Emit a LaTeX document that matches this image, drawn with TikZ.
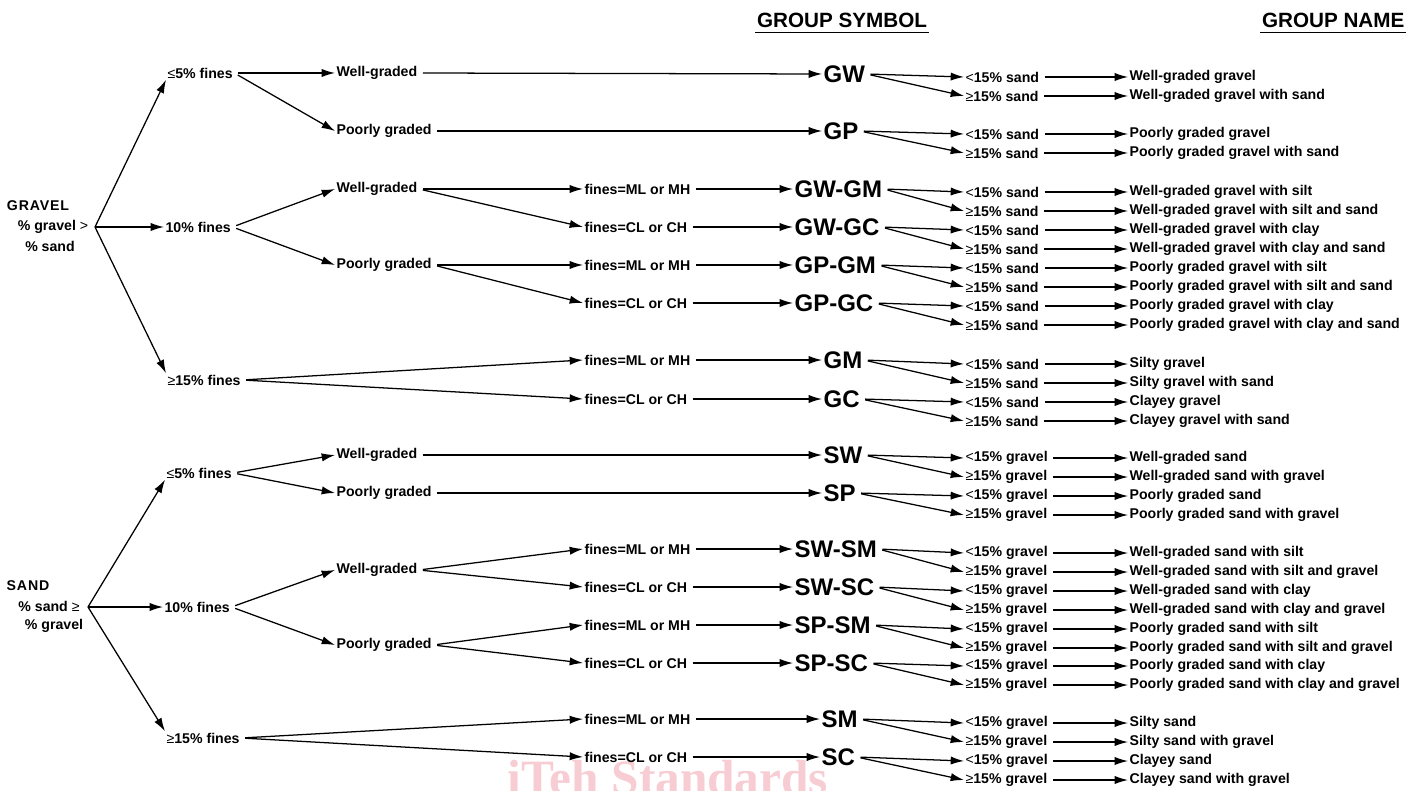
\documentclass[tikz,border=0pt]{standalone}
\usepackage{fontspec}
\setmainfont{Liberation Sans}
\newfontfamily\hdfont{Liberation Sans}[LetterSpace=6]
\newfontfamily\wmfont{Liberation Serif}
\usetikzlibrary{arrows.meta}
\definecolor{wm}{RGB}{247,204,211}
\newcommand\lee{{\mdseries ≤}}
\newcommand\gee{{\mdseries ≥}}
\newcommand\lst{{\mdseries <}}
% right-hand part: #1 symbol node, #2 y of first row, #3 word, #4 #5 group names
\newcommand\critpair[5]{%
  \node[t] (#1a) at (964,#2) {\lst15\% #3};
  \node[t] (#1b) at (964,{#2+19}) {\gee15\% #3};
  \node[t] (#1na) at (1128,#2) {#4};
  \node[t] (#1nb) at (1128,{#2+19}) {#5};
  \draw[ar] (#1.east) -- (#1a.west);
  \draw[ar] (#1.east) -- (#1b.west);
  \draw[ar] (#1a.east) -- (#1na.west);
  \draw[ar] (#1b.east) -- (#1nb.west);
}
\begin{document}
\begin{tikzpicture}[x=0.75pt,y=-0.75pt,
  t/.style={font=\bfseries\fontsize{10.6}{12}\selectfont, inner sep=1pt, anchor=west},
  lbl/.style={font=\bfseries\fontsize{10.6}{12}\selectfont, inner sep=1pt},
  hd/.style={font=\bfseries\fontsize{15.5}{18}\selectfont, inner sep=1pt},
  sym/.style={font=\bfseries\fontsize{18}{20}\selectfont, inner sep=1pt, anchor=west},
  ar/.style={-{Latex[length=10pt,width=6.2pt]}, line width=0.95pt, shorten <=3pt},
  ul/.style={line width=1.1pt}]
\useasboundingbox (0,0) rectangle (1419,791);
\fill[white] (0,0) rectangle (1419,791);
% watermark
\begin{scope}
\clip (0,0) rectangle (1419,791);
\node[font=\wmfont\bfseries\fontsize{37}{40}\selectfont, text=wm, anchor=base, inner sep=0pt] (wmk) at (668,794) {iTeh Standards};
\end{scope}

% headers
\node[hd] (hsym) at (842,20) {GROUP SYMBOL};
\node[hd, anchor=east] (hname) at (1406,20) {GROUP NAME};
\draw[ul] ([yshift=-2.5pt]hsym.south west) -- ([yshift=-2.5pt]hsym.south east);
\draw[ul] ([yshift=-2.5pt]hname.south west) -- ([yshift=-2.5pt]hname.south east);

% ================= GRAVEL =================
\node[lbl, font=\hdfont\bfseries\fontsize{10.6}{12}\selectfont] (gravel) at (38,206) {GRAVEL};
\node[lbl] (gravel2) at (53,227) {\% gravel {\mdseries >}};
\node[lbl] (gravel3) at (50,246) {\% sand};
\coordinate (groot) at (95,227);

\node[t] (g5) at (166,73) {\lee5\% fines};
\node[t] (g10) at (164,227) {10\% fines};
\node[t] (g15) at (166,380) {\gee15\% fines};
\draw[ar, shorten <=0pt] (groot) -- (g5.south west);
\draw[ar, shorten <=0pt] (groot) -- (g10.west);
\draw[ar, shorten <=0pt] (groot) -- (g15.north west);

\node[t] (gw1) at (335,73) {Well-graded};
\node[t] (gp1) at (335,131) {Poorly graded};
\node[t] (gw2) at (335,189) {Well-graded};
\node[t] (gp2) at (335,265) {Poorly graded};
\draw[ar] (g5.east) -- (gw1.west);
\draw[ar] (g5.east) -- (gp1.west);
\draw[ar] (g10.east) -- (gw2.west);
\draw[ar] (g10.east) -- (gp2.west);

\node[t] (gf1) at (583,189) {fines=ML or MH};
\node[t] (gf2) at (583,227) {fines=CL or CH};
\node[t] (gf3) at (583,265) {fines=ML or MH};
\node[t] (gf4) at (583,303) {fines=CL or CH};
\node[t] (gf5) at (583,360) {fines=ML or MH};
\node[t] (gf6) at (583,399) {fines=CL or CH};
\draw[ar] (gw2.east) -- (gf1.west);
\draw[ar] (gw2.east) -- (gf2.west);
\draw[ar] (gp2.east) -- (gf3.west);
\draw[ar] (gp2.east) -- (gf4.west);
\draw[ar] (g15.east) -- (gf5.west);
\draw[ar] (g15.east) -- (gf6.west);

\node[sym] (gw) at (822,74) {GW};
\node[sym] (gp) at (822,131) {GP};
\node[sym] (gwgm) at (793,189) {GW-GM};
\node[sym] (gwgc) at (793,227) {GW-GC};
\node[sym] (gpgm) at (793,265) {GP-GM};
\node[sym] (gpgc) at (793,303) {GP-GC};
\node[sym] (gm) at (822,360) {GM};
\node[sym] (gc) at (822,399) {GC};
\draw[ar] (gw1.east) -- (gw.west);
\draw[ar] (gp1.east) -- (gp.west);
\draw[ar] (gf1.east) -- (gwgm.west);
\draw[ar] (gf2.east) -- (gwgc.west);
\draw[ar] (gf3.east) -- (gpgm.west);
\draw[ar] (gf4.east) -- (gpgc.west);
\draw[ar] (gf5.east) -- (gm.west);
\draw[ar] (gf6.east) -- (gc.west);

\critpair{gw}{77}{sand}{Well-graded gravel}{Well-graded gravel with sand}
\critpair{gp}{134}{sand}{Poorly graded gravel}{Poorly graded gravel with sand}
\critpair{gwgm}{192}{sand}{Well-graded gravel with silt}{Well-graded gravel with silt and sand}
\critpair{gwgc}{230}{sand}{Well-graded gravel with clay}{Well-graded gravel with clay and sand}
\critpair{gpgm}{268}{sand}{Poorly graded gravel with silt}{Poorly graded gravel with silt and sand}
\critpair{gpgc}{306}{sand}{Poorly graded gravel with clay}{Poorly graded gravel with clay and sand}
\critpair{gm}{364}{sand}{Silty gravel}{Silty gravel with sand}
\critpair{gc}{402}{sand}{Clayey gravel}{Clayey gravel with sand}

% ================= SAND =================
\node[lbl, font=\hdfont\bfseries\fontsize{10.6}{12}\selectfont] (sand) at (28,586) {SAND};
\node[lbl] (sand2) at (49,606) {\% sand \gee};
\node[lbl] (sand3) at (54,626) {\% gravel};
\coordinate (sroot) at (88,607);

\node[t] (s5) at (165,473) {\lee5\% fines};
\node[t] (s10) at (163,607) {10\% fines};
\node[t] (s15) at (165,738) {\gee15\% fines};
\draw[ar, shorten <=0pt] (sroot) -- (s5.south west);
\draw[ar, shorten <=0pt] (sroot) -- (s10.west);
\draw[ar, shorten <=0pt] (sroot) -- (s15.north west);

\node[t] (sw1) at (335,455) {Well-graded};
\node[t] (sp1) at (335,493) {Poorly graded};
\node[t] (sw2) at (335,570) {Well-graded};
\node[t] (sp2) at (335,645) {Poorly graded};
\draw[ar] (s5.east) -- (sw1.west);
\draw[ar] (s5.east) -- (sp1.west);
\draw[ar] (s10.east) -- (sw2.west);
\draw[ar] (s10.east) -- (sp2.west);

\node[t] (sf1) at (583,549) {fines=ML or MH};
\node[t] (sf2) at (583,587) {fines=CL or CH};
\node[t] (sf3) at (583,625) {fines=ML or MH};
\node[t] (sf4) at (583,663) {fines=CL or CH};
\node[t] (sf5) at (583,719) {fines=ML or MH};
\node[t] (sf6) at (583,757) {fines=CL or CH};
\draw[ar] (sw2.east) -- (sf1.west);
\draw[ar] (sw2.east) -- (sf2.west);
\draw[ar] (sp2.east) -- (sf3.west);
\draw[ar] (sp2.east) -- (sf4.west);
\draw[ar] (s15.east) -- (sf5.west);
\draw[ar] (s15.east) -- (sf6.west);

\node[sym] (sw) at (822,455) {SW};
\node[sym] (sp) at (822,493) {SP};
\node[sym] (swsm) at (793,549) {SW-SM};
\node[sym] (swsc) at (793,587) {SW-SC};
\node[sym] (spsm) at (793,625) {SP-SM};
\node[sym] (spsc) at (793,663) {SP-SC};
\node[sym] (sm) at (820,719) {SM};
\node[sym] (sc) at (820,757) {SC};
\draw[ar] (sw1.east) -- (sw.west);
\draw[ar] (sp1.east) -- (sp.west);
\draw[ar] (sf1.east) -- (swsm.west);
\draw[ar] (sf2.east) -- (swsc.west);
\draw[ar] (sf3.east) -- (spsm.west);
\draw[ar] (sf4.east) -- (spsc.west);
\draw[ar] (sf5.east) -- (sm.west);
\draw[ar] (sf6.east) -- (sc.west);

\critpair{sw}{458}{gravel}{Well-graded sand}{Well-graded sand with gravel}
\critpair{sp}{496}{gravel}{Poorly graded sand}{Poorly graded sand with gravel}
\critpair{swsm}{553}{gravel}{Well-graded sand with silt}{Well-graded sand with silt and gravel}
\critpair{swsc}{591}{gravel}{Well-graded sand with clay}{Well-graded sand with clay and gravel}
\critpair{spsm}{629}{gravel}{Poorly graded sand with silt}{Poorly graded sand with silt and gravel}
\critpair{spsc}{666}{gravel}{Poorly graded sand with clay}{Poorly graded sand with clay and gravel}
\critpair{sm}{723}{gravel}{Silty sand}{Silty sand with gravel}
\critpair{sc}{761}{gravel}{Clayey sand}{Clayey sand with gravel}
\end{tikzpicture}
\end{document}
